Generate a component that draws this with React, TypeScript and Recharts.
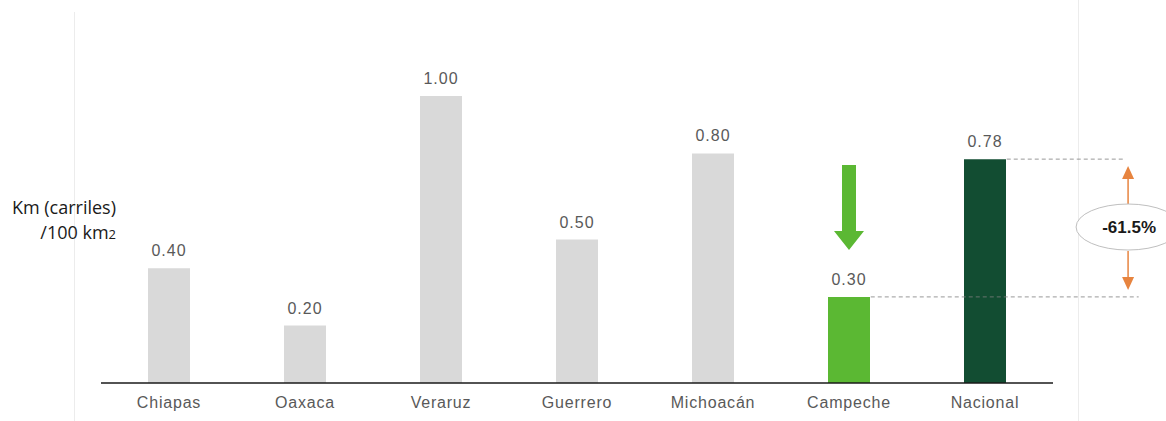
import { BarChart, Bar, XAxis, YAxis, Cell, LabelList, ReferenceLine, ReferenceDot } from 'recharts'

const categories = ['Chiapas', 'Oaxaca', 'Veraruz', 'Guerrero', 'Michoacán', 'Campeche', 'Nacional']
const values = [0.4, 0.2, 1.0, 0.5, 0.8, 0.3, 0.78]
const barColors = ['#d9d9d9', '#d9d9d9', '#d9d9d9', '#d9d9d9', '#d9d9d9', '#5bb833', '#124d32']

const campecheValue = 0.3
const nacionalValue = 0.78
const gapLabel = '-61.5%'

// each category sits in the middle of a unit slot on a numeric axis
const data = categories.map((name, i) => ({ name, pos: i + 0.5, value: values[i] }))
const tickPositions = data.map(d => d.pos)

const font = '"Liberation Sans", Arial, sans-serif'

// orange double arrow with the ellipse in the middle
const GapMarker = (props: any) => {
  const { cx, cy } = props
  const orange = '#e7843f'
  const x = cx + 3
  return (
    <g>
      <line x1={x} y1={cy - 50} x2={x} y2={cy - 23} stroke={orange} strokeWidth={1.5} />
      <polygon points={`${x},${cy - 62} ${x - 6},${cy - 49} ${x + 6},${cy - 49}`} fill={orange} />
      <line x1={x} y1={cy + 23} x2={x} y2={cy + 50} stroke={orange} strokeWidth={1.5} />
      <polygon points={`${x},${cy + 62} ${x - 6},${cy + 49} ${x + 6},${cy + 49}`} fill={orange} />
      <ellipse cx={x} cy={cy - 1} rx={52} ry={23} fill="#fff" stroke="#bfbfbf" strokeWidth={1} />
      <text x={x + 1} y={cy + 5} textAnchor="middle" fontFamily={font} fontWeight="bold" fontSize={17} fill="#1a1a1a">
        {gapLabel}
      </text>
    </g>
  )
}

// green down arrow above Campeche
const DownArrow = (props: any) => {
  const { cx, cy } = props
  const g = '#5bb833'
  return (
    <polygon
      points={`${cx - 7},${cy - 42} ${cx + 7},${cy - 42} ${cx + 7},${cy + 24} ${cx + 15},${cy + 24} ${cx},${cy + 43} ${cx - 15},${cy + 24} ${cx - 7},${cy + 24}`}
      fill={g}
    />
  )
}

const App = () => {
  return (
    <div style={{ position: 'absolute', left: 0, top: 0, width: 1166, height: 421, background: '#fff' }}>
      <div style={{ position: 'absolute', left: 74, top: 12, width: 1, height: 409, background: '#ececec' }} />
      <div style={{ position: 'absolute', left: 1078, top: 0, width: 1, height: 421, background: '#ececec' }} />
      <div
        style={{
          position: 'absolute',
          left: 0,
          top: 195,
          width: 116,
          textAlign: 'right',
          fontFamily: '"Open Sans", sans-serif',
          fontSize: 18,
          lineHeight: '25px',
          color: '#1a1a1a',
        }}
      >
        <div>Km (carriles)</div>
        <div>
          /100 km<span style={{ fontSize: 13 }}>2</span>
        </div>
      </div>
      <div style={{ position: 'absolute', left: 0, top: 0 }}>
        <BarChart width={1166} height={421} data={data} margin={{ top: 96, right: 113, bottom: 8, left: 101 }}>
          <XAxis
            dataKey="pos"
            type="number"
            domain={[0, 7]}
            allowDataOverflow
            ticks={tickPositions}
            tickFormatter={(v: any) => categories[Math.floor(Number(v))]}
            height={30}
            axisLine={{ stroke: '#1a1a1a', strokeWidth: 1.5 }}
            tickLine={false}
            tickSize={0}
            tickMargin={14}
            tick={{ fill: '#595959', fontSize: 16, fontFamily: font, letterSpacing: 0.8 }}
            interval={0}
          />
          <YAxis hide domain={[0, 1]} allowDataOverflow />
          <Bar dataKey="value" barSize={42} isAnimationActive={false}>
            {data.map((d, i) => (
              <Cell key={d.name} fill={barColors[i]} />
            ))}
            <LabelList
              dataKey="value"
              position="top"
              offset={12}
              fill="#595959"
              fontSize={16}
              fontFamily={font}
              letterSpacing={1}
              formatter={(v: any) => Number(v).toFixed(2)}
            />
          </Bar>
          <ReferenceLine
            segment={[{ x: 6.66, y: nacionalValue }, { x: 7.52, y: nacionalValue }]}
            stroke="#7f7f7f"
            strokeDasharray="4 3"
            strokeWidth={0.8}
            ifOverflow="visible"
          />
          <ReferenceLine
            segment={[{ x: 5.66, y: campecheValue }, { x: 7.63, y: campecheValue }]}
            stroke="#7f7f7f"
            strokeDasharray="4 3"
            strokeWidth={0.8}
            ifOverflow="visible"
          />
          <ReferenceDot x={7.53} y={(nacionalValue + campecheValue) / 2} ifOverflow="visible" shape={GapMarker} />
          <ReferenceDot x={5.5} y={0.613} ifOverflow="visible" shape={DownArrow} />
        </BarChart>
      </div>
    </div>
  )
}

export default App
